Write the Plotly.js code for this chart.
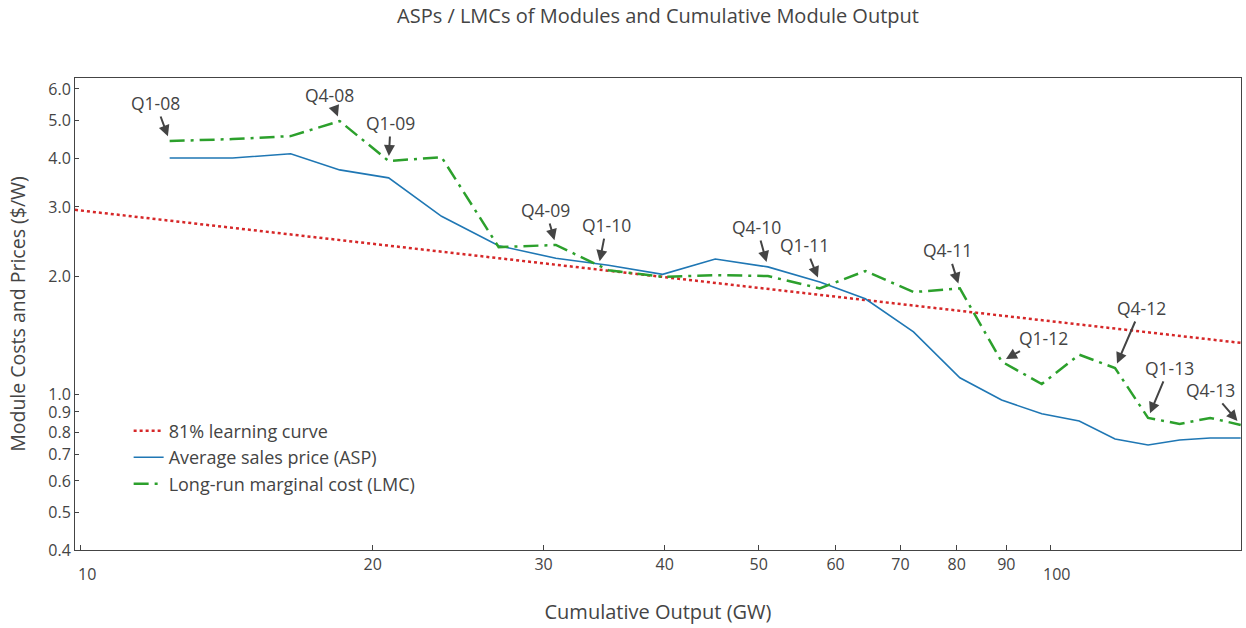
<!DOCTYPE html>
<html>
<head>
<meta charset="utf-8">
<script src="https://cdn.plot.ly/plotly-3.0.1.min.js"></script>
<style>html,body{margin:0;padding:0;background:#fff;}#chart{width:1246px;height:628px;}</style>
</head>
<body>
<div id="chart"></div>
<script>
// Cumulative module output (GW), one point per quarter Q1-08 .. Q4-13
var cumOutput = [12.35, 14.34, 16.46, 18.49, 20.77, 23.55, 26.97, 30.89, 35.0, 39.8, 45.1, 51.1,
                 57.8, 64.4, 72.2, 80.6, 89.0, 97.9, 107, 116.5, 126, 135.8, 146, 157];
// Average sales price ($/W)
var aspValues = [4.00, 4.00, 4.10, 3.73, 3.56, 2.84, 2.39, 2.22, 2.13, 2.02, 2.21, 2.11,
                 1.93, 1.75, 1.44, 1.10, 0.965, 0.89, 0.853, 0.768, 0.741, 0.763, 0.772, 0.772];
// Long-run marginal cost ($/W)
var lmcValues = [4.42, 4.47, 4.55, 4.97, 3.93, 4.02, 2.37, 2.40, 2.07, 1.99, 2.01, 2.00,
                 1.86, 2.06, 1.82, 1.86, 1.21, 1.06, 1.26, 1.165, 0.869, 0.839, 0.869, 0.834];
// 81% learning curve end points
var learnX = [9.865, 157.1];
var learnY = [2.95, 1.35];

// Quarter call-outs
var annLabels = ["Q1-08", "Q4-08", "Q1-09", "Q4-09", "Q1-10", "Q4-10", "Q1-11", "Q4-11", "Q1-12", "Q4-12", "Q1-13", "Q4-13"];
var annX = [12.35, 18.49, 20.77, 30.89, 34.2, 51.1, 57.8, 80.6, 89.0, 116.5, 126, 157];
var annY = [4.42, 4.97, 3.93, 2.40, 2.12, 2.11, 1.93, 1.86, 1.21, 1.165, 0.869, 0.834];

// Axis ticks
var xTickVals = [10, 20, 30, 40, 50, 60, 70, 80, 90, 100];
var xTickText = ["", "20", "30", "40", "50", "60", "70", "80", "90", ""];
var xMajorVals = [10, 100];
var xMajorText = ["10", "100"];
var yTickVals = [0.4, 0.5, 0.6, 0.7, 0.8, 0.9, 1.0, 2.0, 3.0, 4.0, 5.0, 6.0];
var yTickText = ["0.4", "0.5", "0.6", "0.7", "0.8", "0.9", "1.0", "2.0", "3.0", "4.0", "5.0", "6.0"];

var annOffsets = [[-14, -38], [-10, -26], [2, -38], [-10, -35], [8, -41], [-11, -40],
                  [-15, -37], [-12, -38], [42, -24], [26, -60], [21, -50], [-30, -35]];

var traces = [
  {x: learnX, y: learnY, mode: "lines", name: "81% learning curve",
   line: {color: "#d62728", width: 2.5, dash: "dot"}},
  {x: cumOutput, y: aspValues, mode: "lines", name: "Average sales price (ASP)",
   line: {color: "#1f77b4", width: 1.6}},
  {x: cumOutput, y: lmcValues, mode: "lines", name: "Long-run marginal cost (LMC)",
   line: {color: "#2ca02c", width: 2.5, dash: "longdashdot"}}
];

var annotations = annLabels.map(function (t, i) {
  return {
    text: t, x: Math.log10(annX[i]), y: Math.log10(annY[i]), xref: "x", yref: "y",
    showarrow: true, ax: annOffsets[i][0], ay: annOffsets[i][1],
    arrowhead: 2, arrowsize: 1.1, arrowwidth: 2, arrowcolor: "#444", standoff: 5,
    font: {size: 17.5, color: "#444"}
  };
});
xMajorVals.forEach(function (v, i) {
  annotations.push({
    text: xMajorText[i], x: Math.log10(v), y: 0, xref: "x", yref: "paper",
    showarrow: false, xanchor: "center", yanchor: "middle", xshift: 6, yshift: -24,
    font: {size: 16, color: "#444"}
  });
});

var layout = {
  width: 1246, height: 628,
  margin: {l: 75, r: 5, t: 78, b: 78},
  paper_bgcolor: "#fff", plot_bgcolor: "#fff",
  font: {family: "Open Sans, sans-serif", size: 16, color: "#444"},
  title: {text: "ASPs / LMCs of Modules and Cumulative Module Output",
          font: {size: 20, color: "#444"}, x: 0.5, xref: "paper",
          y: 1 - 16 / 628, yref: "container", yanchor: "middle"},
  xaxis: {type: "log", range: [Math.log10(9.865), Math.log10(157.1)],
          tickvals: xTickVals, ticktext: xTickText, ticks: "inside", ticklen: 5,
          tickcolor: "#444", showgrid: false, zeroline: false,
          showline: true, linecolor: "#444", linewidth: 1, mirror: true,
          tickfont: {size: 16},
          title: {text: "Cumulative Output (GW)", font: {size: 20}, standoff: 30}},
  yaxis: {type: "log", range: [Math.log10(0.4), Math.log10(6.4)],
          tickvals: yTickVals, ticktext: yTickText, ticks: "inside", ticklen: 4,
          tickcolor: "#444", showgrid: false, zeroline: false,
          showline: true, linecolor: "#444", linewidth: 1, mirror: true,
          tickfont: {size: 16},
          title: {text: "Module Costs and Prices ($/W)", font: {size: 19.5}, standoff: 17}},
  legend: {x: 0.046, y: 0.291, xanchor: "left", yanchor: "top",
           bgcolor: "rgba(0,0,0,0)", font: {size: 18}},
  showlegend: true,
  annotations: annotations
};

Plotly.newPlot("chart", traces, layout, {displayModeBar: false, staticPlot: true});
</script>
</body>
</html>
